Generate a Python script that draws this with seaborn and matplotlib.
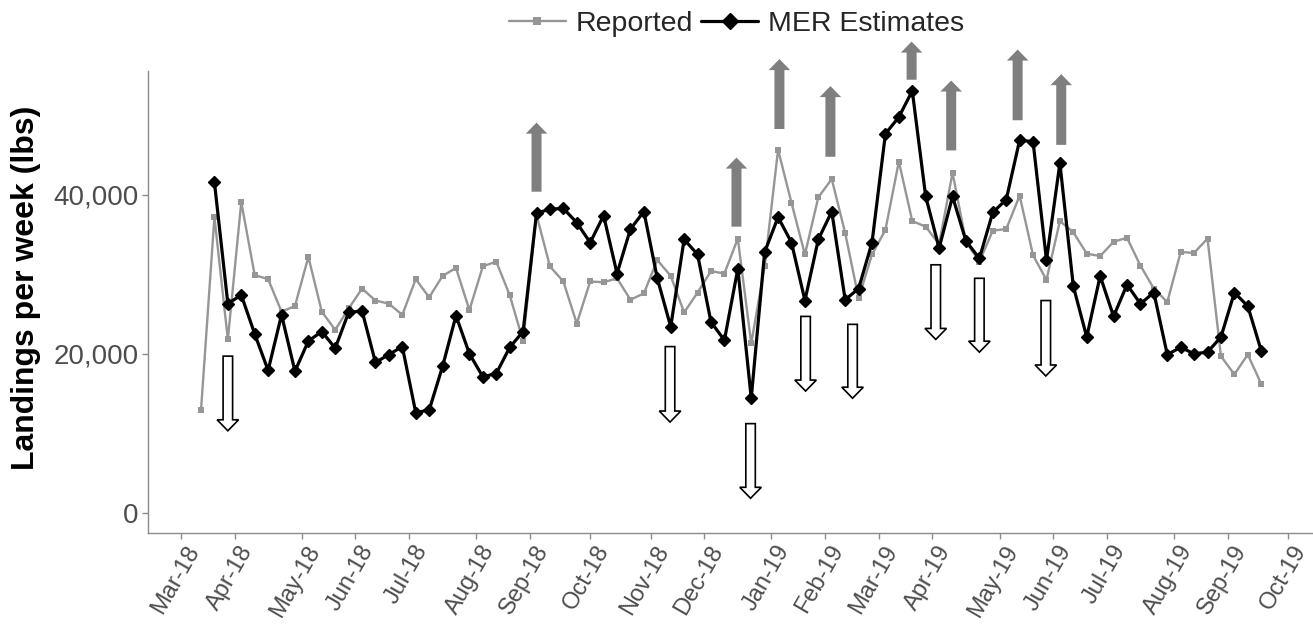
import numpy as np
import pandas as pd
import matplotlib
matplotlib.use("Agg")
import matplotlib.pyplot as plt
import matplotlib.transforms as mtransforms
from matplotlib.patches import FancyArrow
import seaborn as sns

# ---------------- data ----------------
weeks = list(range(80))
reported = [12900, 37200, 21800, 39100, 29900, 29400, 25300, 26000, 32200, 25300,
            23000, 25700, 28200, 26700, 26300, 24900, 29400, 27100, 29800, 30800,
            25500, 31000, 31600, 27400, 21600, 37500, 31000, 29100, 23800, 29100,
            29000, 29500, 26800, 27600, 31800, 29800, 25200, 27700, 30400, 30100,
            34500, 21300, 31000, 45700, 39000, 32500, 39700, 42000, 35200, 27000,
            32500, 35600, 44200, 36700, 36000, 33800, 42800, 34100, 31600, 35500,
            35700, 39900, 32400, 29300, 36700, 35300, 32600, 32300, 34100, 34600,
            31100, 28200, 26500, 32800, 32700, 34500, 19700, 17400, 19900, 16200]
mer_weeks = list(range(1, 80))
mer = [41600, 26300, 27400, 22500, 17900, 24900, 17800, 21600, 22800,
       20700, 25200, 25400, 18900, 19900, 20900, 12600, 12900, 18400, 24800,
       20000, 17100, 17500, 20800, 22800, 37700, 38200, 38300, 36500, 34000,
       37400, 30100, 35700, 37900, 29500, 23400, 34400, 32500, 24000, 21700,
       30700, 14400, 32800, 37200, 34000, 26700, 34400, 37900, 26800, 28200,
       34000, 47700, 49800, 53100, 39800, 33300, 39800, 34200, 32000, 37800,
       39400, 46900, 46700, 31800, 44000, 28500, 22100, 29800, 24700, 28700,
       26300, 27700, 19900, 20800, 20000, 20200, 22100, 27700, 26000, 20400]

tick_labels = ["Mar-18", "Apr-18", "May-18", "Jun-18", "Jul-18", "Aug-18", "Sep-18",
               "Oct-18", "Nov-18", "Dec-18", "Jan-19", "Feb-19", "Mar-19", "Apr-19",
               "May-19", "Jun-19", "Jul-19", "Aug-19", "Sep-19", "Oct-19"]
tick_weeks = [-1.5, 2.5, 7.5, 11.5, 15.5, 20.5, 24.5, 29, 33.5, 37.5, 42.5, 46.5,
              50.5, 54.5, 59.5, 63.5, 67.5, 72.5, 76.5, 81]

# annotation arrows: (week, start value, end value)
up_arrows = [(25.0, 40400, 49100), (39.9, 36000, 44700), (43.1, 48300, 57100),
             (46.9, 44800, 53700), (52.95, 54500, 59300), (55.9, 45600, 54400),
             (60.85, 49400, 58300), (64.1, 46300, 55200)]
down_arrows = [(2.0, 19700, 10300), (34.95, 20900, 11400), (40.95, 11200, 1800),
               (45.05, 24700, 15300), (48.55, 23700, 14400), (54.75, 31200, 21800),
               (58.0, 29500, 20200), (62.95, 26700, 17200)]

# ---------------- style ----------------
sns.set_theme(style="white")
plt.rcParams['font.family'] = ['Liberation Sans', 'DejaVu Sans']

W, H = 1313, 624
fig = plt.figure(figsize=(W / 100, H / 100), dpi=100)
ax = fig.add_axes([148 / W, (H - 533) / H, (W - 148) / W, (533 - 71) / H])

GRAY_LINE = '#969696'
sns.lineplot(x=weeks, y=reported, ax=ax, color=GRAY_LINE, linewidth=1.7,
             marker='s', markersize=4.5, markeredgewidth=0, label='Reported')
sns.lineplot(x=mer_weeks, y=mer, ax=ax, color='black', linewidth=2.3,
             marker='D', markersize=6, markeredgewidth=1, markeredgecolor='black',
             label='MER Estimates')

ax.set_xlim(-3.95, 82.86)
ax.set_ylim(-2570, 55600)

# arrows (widths in data units of the respective axes)
px_x = 13.42        # pixels per week
px_y = 1 / 126.0    # pixels per lbs
shaft_w = 10 / px_x
head_w = 21.5 / px_x
head_l = 11 / px_y
for wk, a, b in up_arrows:
    ax.add_patch(FancyArrow(wk, a, 0, b - a, width=shaft_w, head_width=head_w,
                            head_length=head_l, length_includes_head=True,
                            color='#7f7f7f', lw=0, clip_on=False, zorder=5))
for wk, a, b in down_arrows:
    ax.add_patch(FancyArrow(wk, a, 0, b - a, width=shaft_w * 0.95, head_width=head_w,
                            head_length=head_l, length_includes_head=True,
                            facecolor='white', edgecolor='black', lw=1.2,
                            clip_on=False, zorder=5))

# axes styling
for s in ['top', 'right']:
    ax.spines[s].set_visible(False)
for s in ['left', 'bottom']:
    ax.spines[s].set_color('#8c8c8c')
    ax.spines[s].set_linewidth(1.0)

ax.set_yticks([0, 20000, 40000])
ax.set_yticklabels(['0', '20,000', '40,000'])
ax.set_xticks(tick_weeks)
ax.set_xticklabels(tick_labels, rotation=60, ha='right', va='top',
                   rotation_mode='anchor')
ax.tick_params(axis='both', colors='#8c8c8c', length=4, width=1,
               direction='out', bottom=True, left=True)
ax.tick_params(axis='y', labelsize=20, labelcolor='#4d4d4d', pad=3)
ax.tick_params(axis='x', labelsize=17, labelcolor='#4d4d4d', pad=2)
offset = mtransforms.ScaledTranslation(4 / 100, 0, fig.dpi_scale_trans)
for lab in ax.get_xticklabels():
    lab.set_transform(lab.get_transform() + offset)

ax.set_xlabel('')
ax.set_ylabel('Landings per week (lbs)', fontsize=23, fontweight='bold',
              color='black')
ax.yaxis.set_label_coords(-0.092, 0.53)

ax.get_legend().remove()
h, l = ax.get_legend_handles_labels()
fig.legend(h, l, loc='center', bbox_to_anchor=(0.561, 0.962), ncol=2,
           frameon=False, fontsize=20.5, handlelength=2.0, handletextpad=0.35,
           columnspacing=0.3, markerscale=1.4)

fig.savefig('out.png', dpi=100)
